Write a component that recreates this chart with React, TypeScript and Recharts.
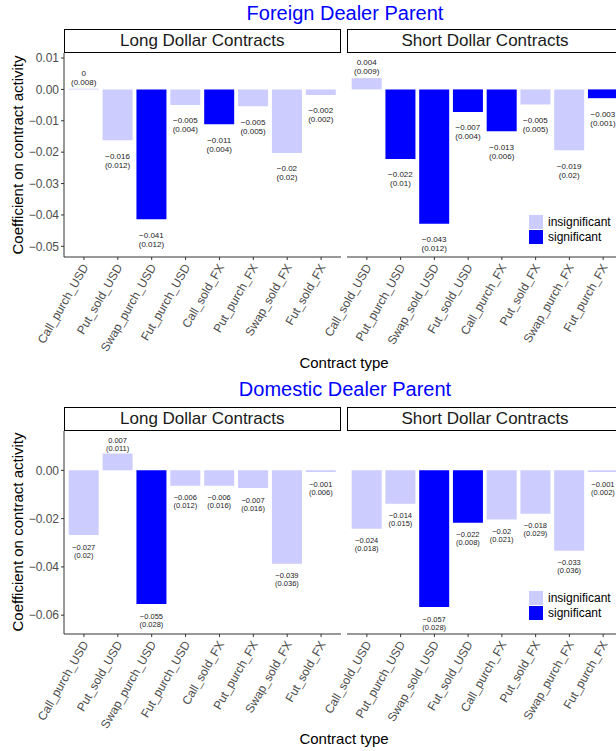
import React from "react";
import { BarChart, Bar, XAxis, YAxis, Cell, LabelList, Legend } from "recharts";

// contract types on the x axis of each facet
const longCats = [
  "Call_purch_USD", "Put_sold_USD", "Swap_purch_USD", "Fut_purch_USD",
  "Call_sold_FX", "Put_purch_FX", "Swap_sold_FX", "Fut_sold_FX",
];
const shortCats = [
  "Call_sold_USD", "Put_purch_USD", "Swap_sold_USD", "Fut_sold_USD",
  "Call_purch_FX", "Put_sold_FX", "Swap_purch_FX", "Fut_purch_FX",
];

// Foreign dealer parent
const foreignLongCoef = [0.0002, -0.0162, -0.0414, -0.005, -0.0111, -0.0054, -0.0203, -0.0018];
const foreignLongSe = [0.008, 0.012, 0.012, 0.004, 0.004, 0.005, 0.02, 0.002];
const foreignLongSig = [false, false, true, false, true, false, false, false];

const foreignShortCoef = [0.0036, -0.0222, -0.0428, -0.0072, -0.0133, -0.0048, -0.0194, -0.0028];
const foreignShortSe = [0.009, 0.01, 0.012, 0.004, 0.006, 0.005, 0.02, 0.001];
const foreignShortSig = [false, true, true, true, true, false, false, true];

// Domestic dealer parent
const domesticLongCoef = [-0.0268, 0.007, -0.0554, -0.0064, -0.0064, -0.0073, -0.0387, -0.0007];
const domesticLongSe = [0.02, 0.011, 0.028, 0.012, 0.016, 0.016, 0.036, 0.006];
const domesticLongSig = [false, false, true, false, false, false, false, false];

const domesticShortCoef = [-0.0242, -0.0138, -0.0566, -0.0217, -0.0204, -0.018, -0.0333, -0.0007];
const domesticShortSe = [0.018, 0.015, 0.028, 0.008, 0.021, 0.029, 0.036, 0.002];
const domesticShortSig = [false, false, true, true, false, false, false, false];

const foreignTicks = [0.01, 0, -0.01, -0.02, -0.03, -0.04, -0.05];
const domesticTicks = [0, -0.02, -0.04, -0.06];

const FONT = '"Liberation Sans", Arial, Helvetica, sans-serif';
const LIGHT = "#ccccff";
const DARK = "#0000ff";
const AXIS = "#333333";

type Row = { name: string; coef: number; se: number; sig: boolean };
type LabelCfg = { neg: number; pos: number; gap: number; size: number };

const makeRows = (cats: string[], coef: number[], se: number[], sig: boolean[]): Row[] =>
  cats.map((name, i) => ({ name, coef: coef[i], se: se[i], sig: sig[i] }));

const fmt = (v: number) => String(Number(v.toFixed(3))).replace("-", "\u2212");
const fmtTick = (v: number) => (v < 0 ? "\u2212" : "") + Math.abs(v).toFixed(2);

function renderBarLabel(p: any, rows: Row[], cfg: LabelCfg) {
  const row = rows[p.index];
  if (!row) return null;
  const x = Number(p.x), y = Number(p.y), w = Number(p.width), h = Number(p.height);
  const cx = x + w / 2;
  const top = Math.min(y, y + h);
  const bottom = Math.max(y, y + h);
  let y1: number, y2: number;
  if (row.coef < 0) {
    y1 = bottom + cfg.neg;
    y2 = y1 + cfg.gap;
  } else {
    y2 = top - cfg.pos;
    y1 = y2 - cfg.gap;
  }
  const common = { x: cx, textAnchor: "middle" as const, fontSize: cfg.size, fill: "#222", fontFamily: FONT };
  return (
    <g key={`lab-${p.index}`}>
      <text {...common} y={y1 + cfg.size * 0.36}>{fmt(row.coef)}</text>
      <text {...common} y={y2 + cfg.size * 0.36}>({row.se})</text>
    </g>
  );
}

function XTick({ x, y, payload }: any) {
  const px = x + 5;
  const py = y + 5;
  return (
    <text x={px} y={py} transform={`rotate(-60, ${px}, ${py})`} textAnchor="end"
      fontSize={12} fill="#4d4d4d" fontFamily={FONT}>
      {payload.value}
    </text>
  );
}

function LegendBox() {
  const item = (color: string, text: string) => (
    <div style={{ display: "flex", alignItems: "center", height: 15 }}>
      <div style={{ width: 14, height: 14, background: color, marginRight: 5 }} />
      <span style={{ fontSize: 12, color: "#000", fontFamily: FONT }}>{text}</span>
    </div>
  );
  return (
    <div>
      {item(LIGHT, "insignificant")}
      {item(DARK, "significant")}
    </div>
  );
}

interface FacetProps {
  rows: Row[];
  left: number;
  top: number;
  width: number;
  plotH: number;
  showY: boolean;
  domain: number[];
  ticks: number[];
  label: LabelCfg;
  legendTop?: number;
}

function Facet({ rows, left, top, width, plotH, showY, domain, ticks, label, legendTop }: FacetProps) {
  const axisH = 110;
  return (
    <div style={{ position: "absolute", left, top }}>
      <BarChart width={width} height={plotH + axisH} data={rows}
        margin={{ top: 0, right: 0, bottom: 0, left: 0 }} barCategoryGap="5%">
        <XAxis dataKey="name" interval={0} height={axisH} padding={{ left: 3, right: 3 }}
          tick={<XTick />} tickSize={3} tickLine={{ stroke: AXIS }} axisLine={{ stroke: AXIS }} />
        {showY ? (
          <YAxis type="number" domain={domain} ticks={ticks} width={64} tickSize={3} interval={0}
            tickFormatter={fmtTick} tickLine={{ stroke: AXIS }} axisLine={{ stroke: AXIS }}
            tick={{ fontSize: 12, fill: "#4d4d4d", fontFamily: FONT }} allowDataOverflow />
        ) : (
          <YAxis type="number" domain={domain} hide allowDataOverflow />
        )}
        <Bar dataKey="coef" isAnimationActive={false}>
          {rows.map((r, i) => (
            <Cell key={i} fill={r.sig ? DARK : LIGHT} />
          ))}
          <LabelList dataKey="coef" content={(p: any) => renderBarLabel(p, rows, label)} />
        </Bar>
        {legendTop !== undefined && (
          <Legend layout="vertical" align="center" verticalAlign="middle"
            wrapperStyle={{ left: 182, top: legendTop, width: "auto" }}
            content={() => <LegendBox />} />
        )}
      </BarChart>
    </div>
  );
}

function Strip({ left, top, width, text }: { left: number; top: number; width: number; text: string }) {
  return (
    <div style={{
      position: "absolute", left, top, width, height: 24, boxSizing: "border-box",
      border: "1.3px solid #000", display: "flex", alignItems: "center", justifyContent: "center",
      fontSize: 17, color: "#1a1a1a", background: "#fff",
    }}>
      {text}
    </div>
  );
}

function Txt({ x, y, size, color, rotate, children }: any) {
  return (
    <div style={{
      position: "absolute", left: x, top: y, whiteSpace: "nowrap", fontSize: size, color,
      lineHeight: 1, transform: `translate(-50%, -50%) rotate(${rotate || 0}deg)`,
    }}>
      {children}
    </div>
  );
}

interface PanelProps {
  title: string;
  titleY: number;
  stripTop: number;
  plotH: number;
  xTitleY: number;
  domain: number[];
  ticks: number[];
  label: LabelCfg;
  longRows: Row[];
  shortRows: Row[];
}

function Panel({ title, titleY, stripTop, plotH, xTitleY, domain, ticks, label, longRows, shortRows }: PanelProps) {
  const plotTop = stripTop + 24;
  return (
    <>
      <Txt x={345} y={titleY} size={20} color="#0000ff">{title}</Txt>
      <Strip left={63.5} top={stripTop} width={277.5} text="Long Dollar Contracts" />
      <Strip left={347} top={stripTop} width={276} text="Short Dollar Contracts" />
      <Facet rows={longRows} left={0} top={plotTop} width={341} plotH={plotH} showY
        domain={domain} ticks={ticks} label={label} />
      <Facet rows={shortRows} left={347} top={plotTop} width={276} plotH={plotH} showY={false}
        domain={domain} ticks={ticks} label={label} legendTop={plotH - 43} />
      <Txt x={17} y={plotTop + plotH / 2} size={15} color="#000" rotate={-90}>
        Coefficient on contract activity
      </Txt>
      <Txt x={344} y={xTitleY} size={15} color="#000">Contract type</Txt>
    </>
  );
}

export default function App() {
  return (
    <div style={{
      position: "absolute", left: 0, top: 0, width: 616, height: 751, overflow: "hidden",
      background: "#fff", fontFamily: FONT,
    }}>
      <style>{`.recharts-surface { overflow: visible; }`}</style>
      <Panel title="Foreign Dealer Parent" titleY={13} stripTop={29} plotH={204} xTitleY={362}
        domain={[-0.0534, 0.0116]} ticks={foreignTicks} label={{ neg: 15.5, pos: 6.5, gap: 9, size: 8 }}
        longRows={makeRows(longCats, foreignLongCoef, foreignLongSe, foreignLongSig)}
        shortRows={makeRows(shortCats, foreignShortCoef, foreignShortSe, foreignShortSig)} />
      <Panel title="Domestic Dealer Parent" titleY={389} stripTop={406.5} plotH={203} xTitleY={738}
        domain={[-0.0678, 0.0163]} ticks={domesticTicks} label={{ neg: 12, pos: 5.6, gap: 8, size: 7.5 }}
        longRows={makeRows(longCats, domesticLongCoef, domesticLongSe, domesticLongSig)}
        shortRows={makeRows(shortCats, domesticShortCoef, domesticShortSe, domesticShortSig)} />
    </div>
  );
}
